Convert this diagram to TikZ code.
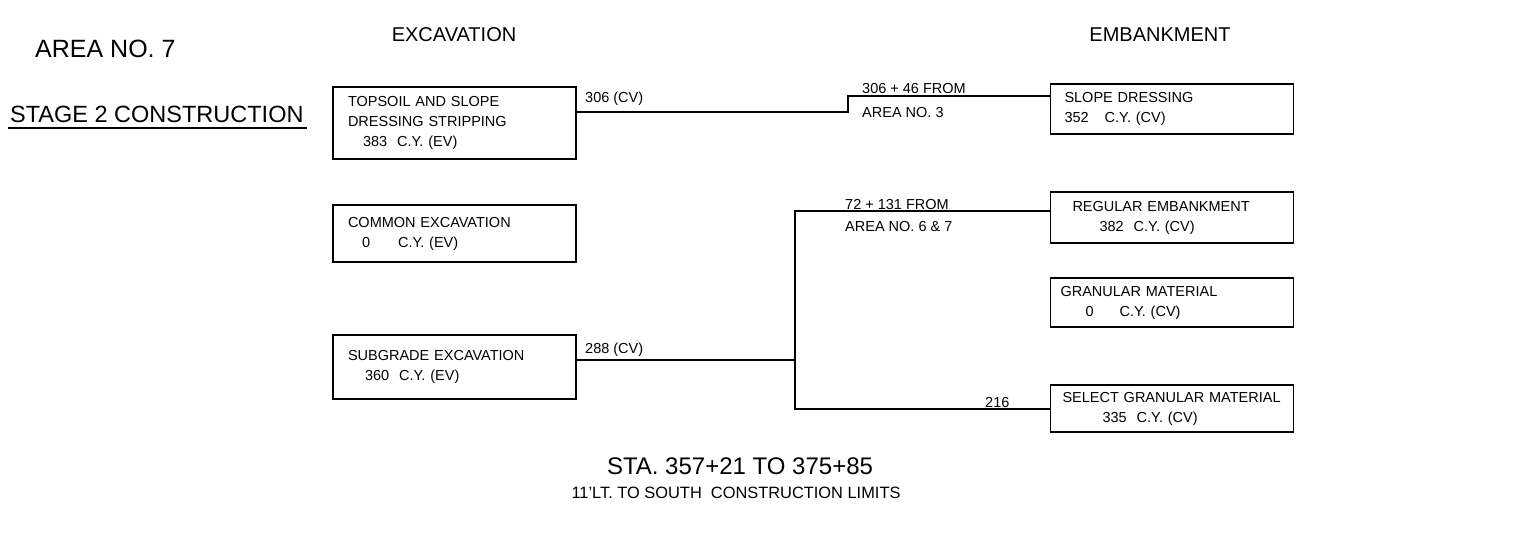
\documentclass[tikz,border=0pt]{standalone}
\usepackage{fontspec}
\setmainfont{Liberation Sans}
\usetikzlibrary{calc}

\begin{document}
\begin{tikzpicture}[x=1pt,y=-1pt,
  box/.style={draw, line width=1.6pt, text width=243pt, align=left,
    inner xsep=0pt, inner ysep=0pt, font=\fontsize{14.5}{20}\selectfont},
  lbl/.style={anchor=base west, inner sep=0pt, font=\fontsize{14.5}{20}\selectfont},
  conn/.style={line width=1.3pt}]

\useasboundingbox (0,0) rectangle (1520,539);

% ===== Titres =====
\node[anchor=base west, inner sep=0pt, font=\fontsize{25}{30}\selectfont] (area) at (35,57) {AREA NO. 7};
\node[anchor=base west, inner sep=0pt, font=\fontsize{23.5}{28}\selectfont] (stage) at (10,122) {STAGE 2 CONSTRUCTION};
\draw[line width=1.3pt] (stage.base west) ++(-2,6) -- ($(stage.base east)+(3,6)$);
\node[anchor=base, inner sep=0pt, font=\fontsize{20}{24}\selectfont] (excav) at (454,41) {EXCAVATION};
\node[anchor=base, inner sep=0pt, font=\fontsize{20}{24}\selectfont] (emb) at (1160,41) {EMBANKMENT};

% ===== Excavation (gauche) =====
\node[box, minimum height=72] (topsoil) at (454.5,123)
  {\hspace*{15pt}TOPSOIL AND SLOPE\\
   \hspace*{15pt}DRESSING STRIPPING\\
   \hspace*{30pt}383\hspace*{10pt}C.Y. (EV)};
\node[box, minimum height=57] (common) at (454.5,233.5)
  {\hspace*{15pt}COMMON EXCAVATION\\
   \hspace*{29pt}0\hspace*{28pt}C.Y. (EV)};
\node[box, minimum height=64] (subgrade) at (454.5,367)
  {\hspace*{15pt}SUBGRADE EXCAVATION\\
   \hspace*{32pt}360\hspace*{10pt}C.Y. (EV)};

% ===== Embankment (droite) =====
\begin{scope}[every node/.append style={text width=248pt}]
\node[box, minimum height=50] (slope) at (1172,109)
  {\hspace*{14pt}SLOPE DRESSING\\
   \hspace*{14pt}352\hspace*{16pt}C.Y. (CV)};
\node[box, minimum height=51] (regular) at (1172,217.5)
  {\hspace*{22pt}REGULAR EMBANKMENT\\
   \hspace*{49pt}382\hspace*{10pt}C.Y. (CV)};
\node[box, minimum height=49] (granular) at (1172,302.5)
  {\hspace*{10pt}GRANULAR MATERIAL\\
   \hspace*{35pt}0\hspace*{26pt}C.Y. (CV)};
\node[box, minimum height=47] (select) at (1172,408.5)
  {\hspace*{12pt}SELECT GRANULAR MATERIAL\\
   \hspace*{52pt}335\hspace*{10pt}C.Y. (CV)};
\end{scope}

% ===== Liaisons =====
\coordinate (stepA) at (848,112);
\coordinate (stepB) at (848,96);
\draw[conn] (topsoil.east |- stepA) -- (stepA) -- (stepB) -- (slope.west |- stepB);
\node[lbl] (cvA) at (585,102) {306 (CV)};
\node[lbl] (fromA) at (862,93) {306 + 46 FROM};
\node[lbl] (areaA) at (862,117) {AREA NO. 3};

\coordinate (split) at (795,360);
\coordinate (splitT) at (795,211);
\coordinate (splitB) at (795,409);
\draw[conn] (subgrade.east |- split) -- (split);
\draw[conn] (regular.west |- splitT) -- (splitT) -- (splitB) -- (select.west |- splitB);
\node[lbl] (cvB) at (585,353) {288 (CV)};
\node[lbl] (fromB) at (845,209) {72 + 131 FROM};
\node[lbl] (areaB) at (845,231) {AREA NO. 6 \& 7};
\node[lbl] (qtyB) at (985,407) {216};

% ===== Stations =====
\node[anchor=base, inner sep=0pt, font=\fontsize{24}{28}\selectfont] (sta) at (740,474) {STA. 357+21 TO 375+85};
\node[anchor=base, inner sep=0pt, font=\fontsize{16.4}{20}\selectfont] (lim) at (736,498) {11'LT. TO SOUTH\ \ CONSTRUCTION LIMITS};

\end{tikzpicture}
\end{document}
